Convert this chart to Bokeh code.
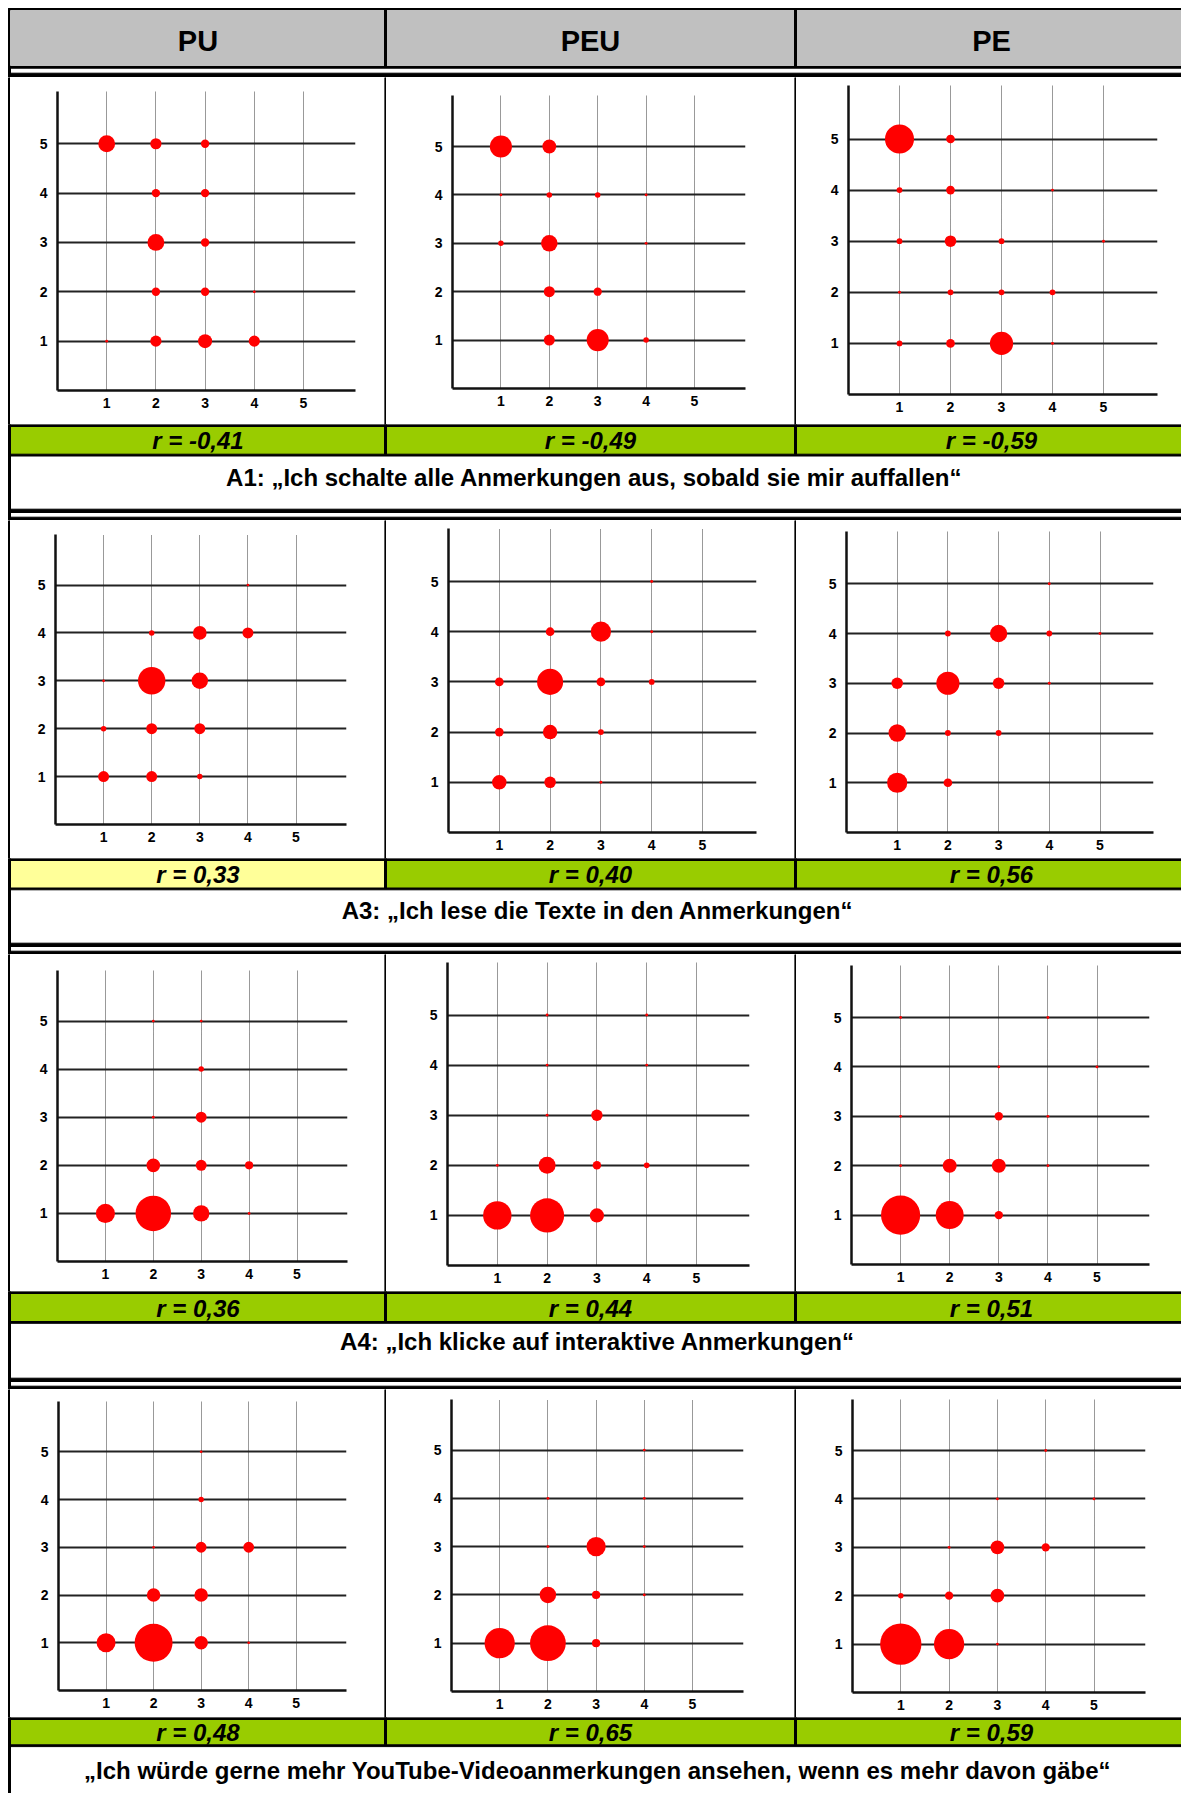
from bokeh.plotting import figure
from bokeh.models import Range1d, FixedTicker
from bokeh.layouts import row, column
from bokeh.embed import file_html
from bokeh.resources import INLINE
from bokeh.core.properties import value

# ---------------- data ----------------
constructs = ["PU", "PEU", "PE"]
ticks = [1, 2, 3, 4, 5]
captions = [
    "A1:  \u201eIch schalte alle Anmerkungen aus, sobald sie mir auffallen\u201c",
    "A3: \u201eIch lese die Texte in den Anmerkungen\u201c",
    "A4: \u201eIch klicke auf interaktive Anmerkungen\u201c",
    "\u201eIch w\u00fcrde gerne mehr YouTube-Videoanmerkungen ansehen, wenn es mehr davon g\u00e4be\u201c",
]
r_a1 = [-0.41, -0.49, -0.59]
r_a3 = [0.33, 0.40, 0.56]
r_a4 = [0.36, 0.44, 0.51]
r_a5 = [0.48, 0.65, 0.59]

# A1
a1_pu_x = [1, 2, 3, 2, 3, 2, 3, 2, 3, 4, 1, 2, 3, 4]
a1_pu_y = [5, 5, 5, 4, 4, 3, 3, 2, 2, 2, 1, 1, 1, 1]
a1_pu_n = [6, 4, 3, 3, 3, 6, 3, 3, 3, 1, 1, 4, 5, 4]
a1_peu_x = [1, 2, 1, 2, 3, 4, 1, 2, 4, 2, 3, 2, 3, 4]
a1_peu_y = [5, 5, 4, 4, 4, 4, 3, 3, 3, 2, 2, 1, 1, 1]
a1_peu_n = [8, 5, 1, 2, 2, 1, 2, 6, 1, 4, 3, 4, 8, 2]
a1_pe_x = [1, 2, 1, 2, 4, 1, 2, 3, 5, 1, 2, 3, 4, 1, 2, 3, 4]
a1_pe_y = [5, 5, 4, 4, 4, 3, 3, 3, 3, 2, 2, 2, 2, 1, 1, 1, 1]
a1_pe_n = [10, 3, 2, 3, 1, 2, 4, 2, 1, 1, 2, 2, 2, 2, 3, 8, 1]
# A3
a3_pu_x = [4, 2, 3, 4, 1, 2, 3, 1, 2, 3, 1, 2, 3]
a3_pu_y = [5, 4, 4, 4, 3, 3, 3, 2, 2, 2, 1, 1, 1]
a3_pu_n = [1, 2, 5, 4, 1, 10, 6, 2, 4, 4, 4, 4, 2]
a3_peu_x = [4, 2, 3, 4, 1, 2, 3, 4, 1, 2, 3, 1, 2, 3]
a3_peu_y = [5, 4, 4, 4, 3, 3, 3, 3, 2, 2, 2, 1, 1, 1]
a3_peu_n = [1, 3, 7, 1, 3, 9, 3, 2, 3, 5, 2, 5, 4, 1]
a3_pe_x = [4, 2, 3, 4, 5, 1, 2, 3, 4, 1, 2, 3, 1, 2]
a3_pe_y = [5, 4, 4, 4, 4, 3, 3, 3, 3, 2, 2, 2, 1, 1]
a3_pe_n = [1, 2, 6, 2, 1, 4, 8, 4, 1, 6, 2, 2, 7, 3]
# A4
a4_pu_x = [2, 3, 3, 2, 3, 2, 3, 4, 1, 2, 3, 4]
a4_pu_y = [5, 5, 4, 3, 3, 2, 2, 2, 1, 1, 1, 1]
a4_pu_n = [1, 1, 2, 1, 4, 5, 4, 3, 7, 13, 6, 1]
a4_peu_x = [2, 4, 2, 4, 2, 3, 1, 2, 3, 4, 1, 2, 3]
a4_peu_y = [5, 5, 4, 4, 3, 3, 2, 2, 2, 2, 1, 1, 1]
a4_peu_n = [1, 1, 1, 1, 1, 4, 1, 6, 3, 2, 10, 12, 5]
a4_pe_x = [1, 4, 3, 5, 1, 3, 4, 1, 2, 3, 4, 1, 2, 3]
a4_pe_y = [5, 5, 4, 4, 3, 3, 3, 2, 2, 2, 2, 1, 1, 1]
a4_pe_n = [1, 1, 1, 1, 1, 3, 1, 1, 5, 5, 1, 14, 10, 3]
# A5
a5_pu_x = [3, 3, 2, 3, 4, 2, 3, 1, 2, 3, 4]
a5_pu_y = [5, 4, 3, 3, 3, 2, 2, 1, 1, 1, 1]
a5_pu_n = [1, 2, 1, 4, 4, 5, 5, 7, 14, 5, 1]
a5_peu_x = [4, 2, 4, 2, 3, 4, 2, 3, 4, 1, 2, 3]
a5_peu_y = [5, 4, 4, 3, 3, 3, 2, 2, 2, 1, 1, 1]
a5_peu_n = [1, 1, 1, 1, 7, 1, 6, 3, 1, 11, 13, 3]
a5_pe_x = [4, 3, 5, 2, 3, 4, 1, 2, 3, 1, 2, 3]
a5_pe_y = [5, 4, 4, 3, 3, 3, 2, 2, 2, 1, 1, 1]
a5_pe_n = [1, 1, 1, 1, 5, 3, 2, 3, 5, 15, 11, 1]

blocks = [
    [(a1_pu_x, a1_pu_y, a1_pu_n), (a1_peu_x, a1_peu_y, a1_peu_n), (a1_pe_x, a1_pe_y, a1_pe_n)],
    [(a3_pu_x, a3_pu_y, a3_pu_n), (a3_peu_x, a3_peu_y, a3_peu_n), (a3_pe_x, a3_pe_y, a3_pe_n)],
    [(a4_pu_x, a4_pu_y, a4_pu_n), (a4_peu_x, a4_peu_y, a4_peu_n), (a4_pe_x, a4_pe_y, a4_pe_n)],
    [(a5_pu_x, a5_pu_y, a5_pu_n), (a5_peu_x, a5_peu_y, a5_peu_n), (a5_pe_x, a5_pe_y, a5_pe_n)],
]
r_rows = [r_a1, r_a3, r_a4, r_a5]

# ---------------- layout (page pixels) ----------------
W = 1181
LEFT = (8, 10)                       # outer left border
CELLS = [(10, 384), (386, 794), (796, 1181)]
CELL_CENTERS = [197.5, 590, 991]
CAPTION_CENTER = 597
HEADER = (0, 77)
PANEL_ROWS = [(77, 424), (520, 858), (954, 1291), (1389, 1717)]
BANDS = [(424, 520), (858, 954), (1291, 1389), (1717, 1793)]
BAR_H = [27.7, 27.5, 28.0, 25.3]
CAP_Y = [477.0, 909.5, 1341.0, 1769.5]
# axis origin (x0, y0) and unit sizes per panel
GEOM = [
    [(57.3, 389.7, 49.2, 49.35), (451.7, 387.7, 48.4, 48.4), (847.7, 394.3, 51.0, 51.1)],
    [(54.7, 823.7, 48.1, 47.9), (447.7, 831.7, 50.8, 50.2), (846.0, 831.9, 50.7, 49.75)],
    [(56.6, 1261.3, 47.9, 48.1), (446.6, 1265.3, 49.8, 50.1), (851.4, 1264.0, 49.1, 49.4)],
    [(58.5, 1690.0, 47.55, 47.75), (450.8, 1691.0, 48.2, 48.3), (852.5, 1691.7, 48.3, 48.4)],
]
XMAX, YMAX = 6.06, 6.05
GREEN = "#99CC00"
YELLOW = "#FFFF99"
GRAY = "#C0C0C0"
FONT = "Liberation Sans"


def base_fig(w, h, xr, yr, **kw):
    p = figure(width=w, height=h, x_range=xr, y_range=yr, toolbar_location=None,
               output_backend="svg", title=None, x_axis_type=None, y_axis_type=None,
               min_border=0, outline_line_color=None, frame_align=False, **kw)
    p.grid.visible = False
    return p


def vbar_fig(h, x0, x1):
    # a narrow strip figure holding a vertical black rule between x0 and x1
    p = base_fig(x1, h, Range1d(0, x1), Range1d(0, 1))
    p.quad(left=[x0], right=[x1], bottom=[0], top=[1], color="black")
    return p


def panel(data, cell, rows, geom):
    xs, ys, ns = data
    cl, cr = cell
    ct, cb = rows
    x0, y0, ux, uy = geom
    cw, ch = cr - cl, cb - ct
    mbl = round(x0 - cl)
    fw = round(XMAX * ux)
    mbr = cw - mbl - fw
    mbb = round(cb - y0)
    fh = round(YMAX * uy)
    mbt = ch - mbb - fh
    p = figure(width=cw, height=ch, x_range=Range1d(0, fw / ux), y_range=Range1d(0, fh / uy),
               min_border_left=mbl, min_border_right=mbr, min_border_top=mbt,
               min_border_bottom=mbb, toolbar_location=None, output_backend="svg",
               title=None, outline_line_color=None, frame_align=False)
    tk = FixedTicker(ticks=ticks)
    for ax in (p.xaxis[0], p.yaxis[0]):
        ax.ticker = tk
        ax.axis_line_color = "#111111"
        ax.axis_line_width = 2.5
        ax.major_tick_line_color = None
        ax.major_tick_in = 0
        ax.major_tick_out = 0
        ax.minor_tick_line_color = None
        ax.major_label_text_font = FONT
        ax.major_label_text_font_style = "bold"
        ax.major_label_text_font_size = "14px"
        ax.major_label_text_color = "black"
    p.yaxis.major_label_standoff = 10
    p.xaxis.major_label_standoff = 7
    p.xgrid.ticker = tk
    p.ygrid.ticker = tk
    p.xgrid.grid_line_color = "#333333"
    p.xgrid.grid_line_width = 1
    p.xgrid.grid_line_dash = "1 1"
    p.ygrid.grid_line_color = "#222222"
    p.ygrid.grid_line_width = 2
    p.circle(x=xs, y=ys, radius=[n * 0.0285 for n in ns], fill_color="#FF0000",
             line_color=None)
    return p


def header_fig():
    t, b = HEADER
    p = base_fig(W, b - t, Range1d(0, W), Range1d(b, t))
    L = [LEFT[0]] * 4
    R = [W, W, W, LEFT[1]]
    T = [8, 65, 72.7, 8]
    B = [10, 67.7, 77, 77]
    p.quad(left=L, right=R, top=T, bottom=B, color="black")
    p.quad(left=[c[0] for c in CELLS], right=[c[1] for c in CELLS],
           top=[10] * 3, bottom=[65] * 3, color=GRAY)
    p.quad(left=[CELLS[0][1], CELLS[1][1]], right=[CELLS[1][0], CELLS[2][0]],
           top=[8, 8], bottom=[66, 66], color="black")
    p.text(x=CELL_CENTERS, y=[40.0] * 3, text=constructs,
           text_font=value(FONT), text_font_style="bold", text_font_size="29px",
           text_align="center", text_baseline="middle", text_color="black")
    return p


def band_fig(i):
    t, b = BANDS[i]
    bh = BAR_H[i]
    p = base_fig(W, b - t, Range1d(0, W), Range1d(b, t))
    rv = r_rows[i]
    cols = [GREEN if abs(v) >= 0.35 else YELLOW for v in rv]
    p.quad(left=[c[0] for c in CELLS], right=[c[1] for c in CELLS],
           top=[t + 2] * 3, bottom=[t + 2 + bh] * 3, color=cols)
    L = [LEFT[0]] * 3
    R = [W, W, LEFT[1]]
    T = [t, t + 2 + bh, t]
    B = [t + 2, t + 3.8 + bh, b]
    if i < 3:
        L += [LEFT[0]] * 2
        R += [W, W]
        T += [b - 11.3, b - 3.3]
        B += [b - 8, b]
    p.quad(left=L, right=R, top=T, bottom=B, color="black")
    p.quad(left=[CELLS[0][1], CELLS[1][1]], right=[CELLS[1][0], CELLS[2][0]],
           top=[t, t], bottom=[t + 2 + bh, t + 2 + bh], color="black")
    labels = ["r = " + ("%.2f" % v).replace(".", ",") for v in rv]
    p.text(x=CELL_CENTERS, y=[t + 2 + bh / 2 + 0.5] * 3, text=labels,
           text_font=value(FONT), text_font_style="bold italic", text_font_size="24px",
           text_align="center", text_baseline="middle", text_color="black")
    p.text(x=[CAPTION_CENTER], y=[CAP_Y[i]], text=[captions[i]],
           text_font=value(FONT), text_font_style="bold", text_font_size="24px",
           text_align="center", text_baseline="middle", text_color="black")
    return p


parts = [header_fig()]
for i in range(4):
    rt, rb = PANEL_ROWS[i]
    ch = rb - rt
    kids = [vbar_fig(ch, LEFT[0], LEFT[1])]
    for j in range(3):
        if j > 0:
            kids.append(vbar_fig(ch, 0, CELLS[j][0] - CELLS[j - 1][1]))
        kids.append(panel(blocks[i][j], CELLS[j], PANEL_ROWS[i], GEOM[i][j]))
    parts.append(row(*kids, spacing=0))
    parts.append(band_fig(i))

layout = column(*parts, spacing=0)
open("out.html", "w").write(file_html(layout, INLINE))
